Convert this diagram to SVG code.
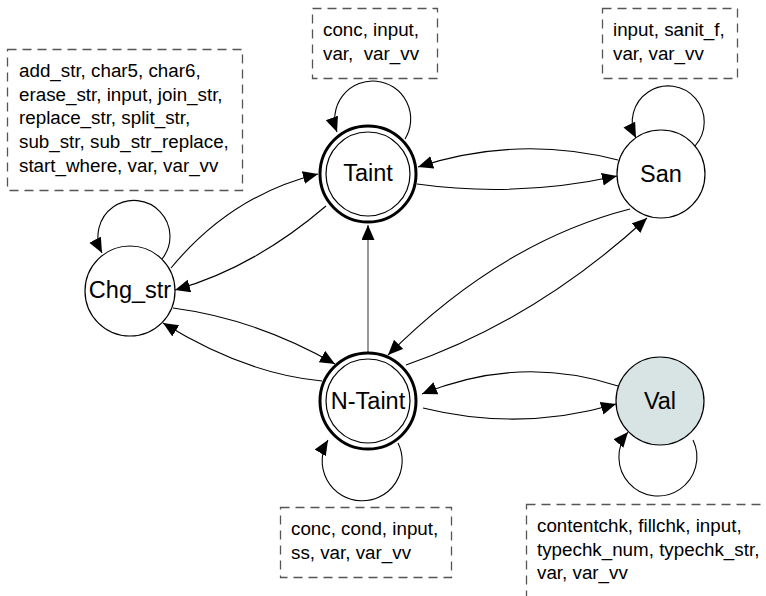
<svg xmlns="http://www.w3.org/2000/svg" width="766" height="596" viewBox="0 0 766 596">
<style>
.st{fill:#fff;stroke:#000;stroke-width:1.2}
.outer{fill:#fff;stroke:#000;stroke-width:3}
.inner{fill:none;stroke:#000;stroke-width:1.2}
.lbl{font-family:"Liberation Sans",Arial,sans-serif;font-size:23.5px;text-anchor:middle;fill:#000}
.note{fill:none;stroke:#555;stroke-width:1.3;stroke-dasharray:9 6}
.nt{font-family:"Liberation Sans",Arial,sans-serif;font-size:18.8px;fill:#000}
.e{fill:none;stroke:#000;stroke-width:1.1;marker-end:url(#ah)}
</style>
<defs>
<marker id="ah" markerUnits="userSpaceOnUse" markerWidth="16" markerHeight="14" refX="15" refY="6.5" orient="auto">
<path d="M0,0 L15,6.5 L0,13 z" fill="#000"/>
</marker>
</defs>
<rect width="766" height="596" fill="#fff"/>

<g id="notes">
<g id="note-chg">
<rect class="note" x="7.5" y="49.5" width="235" height="141"/>
<text class="nt" x="19" y="77">add_str, char5, char6,</text>
<text class="nt" x="19" y="100.7">erase_str, input, join_str,</text>
<text class="nt" x="19" y="124.4">replace_str, split_str,</text>
<text class="nt" x="19" y="148.1">sub_str, sub_str_replace,</text>
<text class="nt" x="19" y="171.8">start_where, var, var_vv</text>
</g>
<g id="note-taint">
<rect class="note" x="312.5" y="8.5" width="125" height="70"/>
<text class="nt" x="323" y="36">conc, input,</text>
<text class="nt" x="323" y="60" xml:space="preserve">var,  var_vv</text>
</g>
<g id="note-san">
<rect class="note" x="602.5" y="8.5" width="135" height="70"/>
<text class="nt" x="613" y="36">input, sanit_f,</text>
<text class="nt" x="613" y="60">var, var_vv</text>
</g>
<g id="note-ntaint">
<rect class="note" x="280.5" y="507.5" width="171" height="70"/>
<text class="nt" x="291" y="535">conc, cond, input,</text>
<text class="nt" x="291" y="558.7">ss, var, var_vv</text>
</g>
<g id="note-val">
<rect class="note" x="526.5" y="504.5" width="260" height="110"/>
<text class="nt" x="537" y="532">contentchk, fillchk, input,</text>
<text class="nt" x="537" y="555.7">typechk_num, typechk_str,</text>
<text class="nt" x="537" y="579.4">var, var_vv</text>
</g>
</g>

<g id="connectors">
<path class="e" d="M405,139 A38 38 0 1 0 337,132"/>
<path class="e" d="M162,259 A36 36 0 1 0 102,253"/>
<path class="e" d="M695,146 A36 36 0 1 0 636,138"/>
<path class="e" d="M398,443 A40 40 0 1 1 328,440"/>
<path class="e" d="M693,440 A39 39 0 1 1 628,432"/>
<path class="e" d="M171,268 Q231.5,195 318,174"/>
<path class="e" d="M326,206 Q253.5,268 175,290"/>
<path class="e" d="M417,184 Q517,198 617,176"/>
<path class="e" d="M618,160 Q518,134.5 418,167"/>
<path class="e" d="M368,353 L368,225" style="stroke:#444"/>
<path class="e" d="M630,209 Q501,242 388,355"/>
<path class="e" d="M406,365 Q536,320 647,218"/>
<path class="e" d="M173,308 Q256.5,319 335,364"/>
<path class="e" d="M322,381 Q245.5,374 163,323"/>
<path class="e" d="M618,386 Q520,354 422,394"/>
<path class="e" d="M423,408 Q520.5,432 616,404"/>
</g>

<g id="node-taint">
<circle class="outer" cx="368" cy="174" r="48"/>
<circle class="inner" cx="368" cy="174" r="42"/>
<text class="lbl" x="368" y="181">Taint</text>
</g>
<g id="node-chg">
<circle class="st" cx="130" cy="291" r="45"/>
<text class="lbl" x="130" y="298">Chg_str</text>
</g>
<g id="node-san">
<circle class="st" cx="661" cy="174" r="44"/>
<text class="lbl" x="661" y="181.5">San</text>
</g>
<g id="node-ntaint">
<circle class="outer" cx="368" cy="401" r="48"/>
<circle class="inner" cx="368" cy="401" r="42"/>
<text class="lbl" x="368" y="408.5">N-Taint</text>
</g>
<g id="node-val">
<circle cx="660" cy="401" r="44" fill="#d8e3e3" stroke="#000" stroke-width="1.2"/>
<text class="lbl" x="660" y="408.5">Val</text>
</g>
</svg>
